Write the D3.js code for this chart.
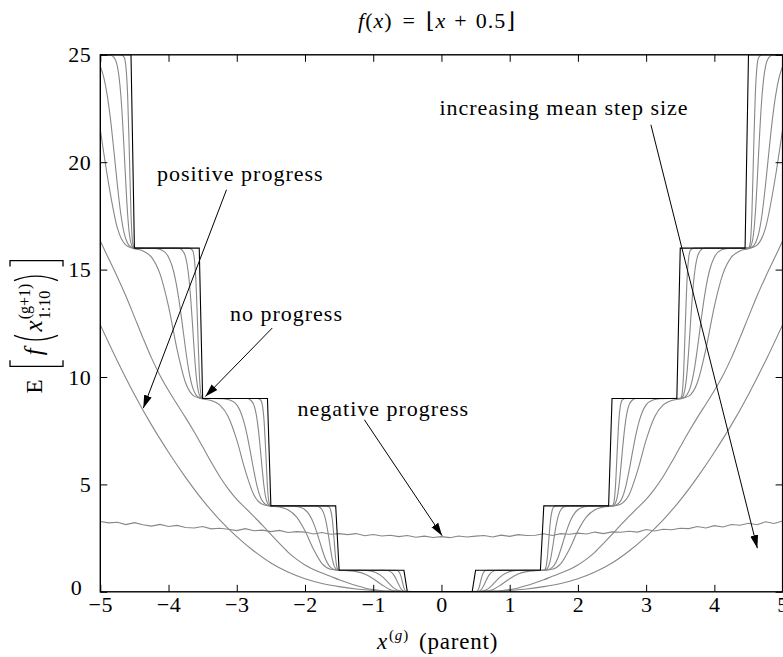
<!DOCTYPE html>
<html>
<head>
<meta charset="utf-8">
<script src="https://cdn.jsdelivr.net/npm/d3@7"></script>
<style>
    body { margin: 0; background: #fff; }
    text { font-family: "Liberation Serif", "DejaVu Serif", serif; fill: #000; }
</style>
</head>
<body>
<div id="chart"></div>
<script>
// parent fitness f = round(x)^2
const stepX = [-5, -4.55, -4.5, -3.55, -3.5, -2.55, -2.5, -1.55, -1.5, -0.55, -0.5, 0.45, 0.5, 1.45, 1.5, 2.45, 2.5, 3.45, 3.5, 4.45, 4.5, 5];
const stepY = [25, 25, 16, 16, 9, 9, 4, 4, 1, 1, 0, 0, 1, 1, 4, 4, 9, 9, 16, 16, 25, 25];

// smallest step sizes, read as [x, E] points
const small1 = [
    [-5, 25], [-4.7, 25], [-4.65, 24.88], [-4.625, 24.46], [-4.6, 23.15], [-4.575, 20.51], [-4.55, 17.6], [-4.525, 16.23], [-4.5, 16],
    [-3.7, 16], [-3.65, 15.91], [-3.625, 15.58], [-3.6, 14.56], [-3.575, 12.51], [-3.55, 10.24], [-3.525, 9.18], [-3.5, 9],
    [-2.7, 9], [-2.65, 8.93], [-2.625, 8.7], [-2.6, 7.97], [-2.575, 6.5], [-2.55, 4.89], [-2.525, 4.13], [-2.5, 4],
    [-1.7, 4], [-1.65, 3.96], [-1.625, 3.82], [-1.6, 3.38], [-1.575, 2.5], [-1.55, 1.53], [-1.525, 1.08], [-1.5, 1],
    [-0.7, 1], [-0.65, 0.99], [-0.625, 0.94], [-0.6, 0.79], [-0.575, 0.5], [-0.55, 0.18], [-0.525, 0.03], [-0.5, 0],
    [0, 0],
    [0.5, 0], [0.525, 0.03], [0.55, 0.18], [0.575, 0.5], [0.6, 0.79], [0.625, 0.94], [0.65, 0.99], [0.7, 1],
    [1.5, 1], [1.525, 1.08], [1.55, 1.53], [1.575, 2.5], [1.6, 3.38], [1.625, 3.82], [1.65, 3.96], [1.7, 4],
    [2.5, 4], [2.525, 4.13], [2.55, 4.89], [2.575, 6.5], [2.6, 7.97], [2.625, 8.7], [2.65, 8.93], [2.7, 9],
    [3.5, 9], [3.525, 9.18], [3.55, 10.24], [3.575, 12.51], [3.6, 14.56], [3.625, 15.58], [3.65, 15.91], [3.7, 16],
    [4.5, 16], [4.525, 16.23], [4.55, 17.6], [4.575, 20.51], [4.6, 23.15], [4.625, 24.46], [4.65, 24.88], [4.7, 25], [5, 25]
];

const small2 = [
    [-5, 25], [-4.85, 24.98], [-4.8, 24.88], [-4.75, 24.46], [-4.725, 23.96], [-4.7, 23.15], [-4.675, 21.98], [-4.65, 20.51], [-4.625, 18.95], [-4.6, 17.6], [-4.575, 16.69], [-4.55, 16.23], [-4.525, 16.05], [-4.5, 16],
    [-3.85, 16], [-3.8, 15.91], [-3.75, 15.58], [-3.725, 15.19], [-3.7, 14.56], [-3.675, 13.65], [-3.65, 12.51], [-3.625, 11.29], [-3.6, 10.24], [-3.575, 9.54], [-3.55, 9.18], [-3.525, 9.04], [-3.5, 9],
    [-2.85, 9], [-2.8, 8.93], [-2.75, 8.7], [-2.725, 8.42], [-2.7, 7.97], [-2.675, 7.32], [-2.65, 6.5], [-2.625, 5.64], [-2.6, 4.89], [-2.575, 4.38], [-2.55, 4.13], [-2.525, 4.03], [-2.5, 4],
    [-1.85, 4], [-1.8, 3.96], [-1.75, 3.82], [-1.725, 3.65], [-1.7, 3.38], [-1.675, 2.99], [-1.65, 2.5], [-1.625, 1.98], [-1.6, 1.53], [-1.575, 1.23], [-1.55, 1.08], [-1.525, 1.02], [-1.5, 1],
    [-0.85, 1], [-0.8, 0.99], [-0.75, 0.94], [-0.725, 0.88], [-0.7, 0.79], [-0.675, 0.66], [-0.65, 0.5], [-0.625, 0.33], [-0.6, 0.18], [-0.575, 0.08], [-0.55, 0.03], [-0.525, 0.01], [-0.5, 0],
    [0, 0],
    [0.5, 0], [0.525, 0.01], [0.55, 0.03], [0.575, 0.08], [0.6, 0.18], [0.625, 0.33], [0.65, 0.5], [0.675, 0.66], [0.7, 0.79], [0.725, 0.88], [0.75, 0.94], [0.8, 0.99], [0.85, 1],
    [1.5, 1], [1.525, 1.02], [1.55, 1.08], [1.575, 1.23], [1.6, 1.53], [1.625, 1.98], [1.65, 2.5], [1.675, 2.99], [1.7, 3.38], [1.725, 3.65], [1.75, 3.82], [1.8, 3.96], [1.85, 4],
    [2.5, 4], [2.525, 4.03], [2.55, 4.13], [2.575, 4.38], [2.6, 4.89], [2.625, 5.64], [2.65, 6.5], [2.675, 7.32], [2.7, 7.97], [2.725, 8.42], [2.75, 8.7], [2.8, 8.93], [2.85, 9],
    [3.5, 9], [3.525, 9.04], [3.55, 9.18], [3.575, 9.54], [3.6, 10.24], [3.625, 11.29], [3.65, 12.51], [3.675, 13.65], [3.7, 14.56], [3.725, 15.19], [3.75, 15.58], [3.8, 15.91], [3.85, 16],
    [4.5, 16], [4.525, 16.05], [4.55, 16.23], [4.575, 16.69], [4.6, 17.6], [4.625, 18.95], [4.65, 20.51], [4.675, 21.98], [4.7, 23.15], [4.725, 23.96], [4.75, 24.46], [4.8, 24.88], [4.85, 24.98], [5, 25]
];

const small3 = [
    [-5, 24.46], [-4.95, 23.96], [-4.9, 23.15], [-4.85, 21.98], [-4.8, 20.51], [-4.75, 18.95], [-4.7, 17.6], [-4.65, 16.69], [-4.6, 16.23], [-4.55, 16.05], [-4.5, 16.01],
    [-4.2, 15.98], [-4.1, 15.91], [-4.0, 15.58], [-3.95, 15.19], [-3.9, 14.56], [-3.85, 13.65], [-3.8, 12.51], [-3.75, 11.29], [-3.7, 10.24], [-3.65, 9.54], [-3.6, 9.18], [-3.55, 9.04], [-3.5, 9.01],
    [-3.2, 8.99], [-3.1, 8.93], [-3.0, 8.7], [-2.95, 8.42], [-2.9, 7.97], [-2.85, 7.32], [-2.8, 6.5], [-2.75, 5.64], [-2.7, 4.89], [-2.65, 4.38], [-2.6, 4.13], [-2.55, 4.03], [-2.5, 4],
    [-2.2, 3.99], [-2.1, 3.96], [-2.0, 3.82], [-1.95, 3.65], [-1.9, 3.38], [-1.85, 2.99], [-1.8, 2.5], [-1.75, 1.98], [-1.7, 1.53], [-1.65, 1.23], [-1.6, 1.08], [-1.55, 1.02], [-1.5, 1],
    [-1.2, 1], [-1.1, 0.99], [-1.0, 0.94], [-0.95, 0.88], [-0.9, 0.79], [-0.85, 0.66], [-0.8, 0.5], [-0.75, 0.33], [-0.7, 0.18], [-0.65, 0.08], [-0.6, 0.03], [-0.55, 0.01], [-0.5, 0],
    [0, 0],
    [0.5, 0], [0.55, 0.01], [0.6, 0.03], [0.65, 0.08], [0.7, 0.18], [0.75, 0.33], [0.8, 0.5], [0.85, 0.66], [0.9, 0.79], [0.95, 0.88], [1.0, 0.94], [1.1, 0.99], [1.2, 1],
    [1.5, 1], [1.55, 1.02], [1.6, 1.08], [1.65, 1.23], [1.7, 1.53], [1.75, 1.98], [1.8, 2.5], [1.85, 2.99], [1.9, 3.38], [1.95, 3.65], [2.0, 3.82], [2.1, 3.96], [2.2, 3.99],
    [2.5, 4], [2.55, 4.03], [2.6, 4.13], [2.65, 4.38], [2.7, 4.89], [2.75, 5.64], [2.8, 6.5], [2.85, 7.32], [2.9, 7.97], [2.95, 8.42], [3.0, 8.7], [3.1, 8.93], [3.2, 8.99],
    [3.5, 9.01], [3.55, 9.04], [3.6, 9.18], [3.65, 9.54], [3.7, 10.24], [3.75, 11.29], [3.8, 12.51], [3.85, 13.65], [3.9, 14.56], [3.95, 15.19], [4.0, 15.58], [4.1, 15.91], [4.2, 15.98],
    [4.5, 16.01], [4.55, 16.05], [4.6, 16.23], [4.65, 16.69], [4.7, 17.6], [4.75, 18.95], [4.8, 20.51], [4.85, 21.98], [4.9, 23.15], [4.95, 23.96], [5, 24.46]
];

// larger step sizes, on an x grid of 0.125
const fineX = d3.range(-5, 5.0001, 0.125);
const medium1 = [
    21.52, 18.94, 16.94, 16.14, 15.97, 15.87, 15.58, 14.80, 13.29, 11.29, 9.73, 9.11, 8.98, 8.91, 8.70, 8.15, 7.07, 5.64, 4.52, 4.08,
    3.99, 3.95, 3.82, 3.49, 2.84, 1.98, 1.31, 1.05, 1.00, 0.98, 0.94, 0.83, 0.61, 0.33, 0.10, 0.02, 0, 0, 0, 0,
    0,
    0, 0, 0, 0, 0.02, 0.10, 0.33, 0.61, 0.83, 0.94, 0.98, 1.00, 1.05, 1.31, 1.98, 2.84, 3.49, 3.82, 3.95, 3.99,
    4.08, 4.52, 5.64, 7.07, 8.15, 8.70, 8.91, 8.98, 9.11, 9.73, 11.29, 13.29, 14.80, 15.58, 15.87, 15.97, 16.14, 16.94, 18.94, 21.52
];
const medium2 = [
    16.33, 15.49, 14.66, 13.77, 12.80, 11.82, 10.89, 10.07, 9.37, 8.73, 8.11, 7.45, 6.75, 6.04, 5.37, 4.79, 4.30, 3.91, 3.51, 3.10,
    2.67, 2.25, 1.85, 1.52, 1.25, 1.04, 0.87, 0.72, 0.56, 0.42, 0.29, 0.18, 0.10, 0.05, 0.02, 0.01, 0, 0, 0, 0,
    0,
    0, 0, 0, 0, 0.01, 0.02, 0.05, 0.10, 0.18, 0.29, 0.42, 0.56, 0.72, 0.87, 1.04, 1.25, 1.52, 1.85, 2.25, 2.67,
    3.10, 3.51, 3.91, 4.30, 4.79, 5.37, 6.04, 6.75, 7.45, 8.11, 8.73, 9.37, 10.07, 10.89, 11.82, 12.80, 13.77, 14.66, 15.49, 16.33
];
// very large step size, noisy estimate
const wide2 = [
    3.27, 3.21, 3.24, 3.13, 3.22, 3.12, 3.06, 3.14, 3.04, 3.09, 2.99, 2.97, 3.04, 2.93, 2.96, 2.91, 2.85, 2.94, 2.84, 2.87,
    2.80, 2.86, 2.76, 2.80, 2.78, 2.69, 2.76, 2.68, 2.71, 2.66, 2.71, 2.61, 2.67, 2.60, 2.63, 2.57, 2.62, 2.54, 2.59, 2.53,
    2.57,
    2.52, 2.60, 2.55, 2.59, 2.62, 2.55, 2.64, 2.58, 2.66, 2.62, 2.63, 2.70, 2.62, 2.71, 2.68, 2.73, 2.69, 2.78, 2.71, 2.79,
    2.77, 2.82, 2.78, 2.90, 2.83, 2.91, 2.89, 2.96, 2.94, 3.04, 2.97, 3.08, 3.02, 3.13, 3.10, 3.19, 3.12, 3.26, 3.18, 3.30
];

// x grid of 0.25
const coarseX = d3.range(-5, 5.0001, 0.25);
const wide1 = [
    12.43, 10.75, 9.19, 7.77, 6.50, 5.33, 4.27, 3.35, 2.57, 1.90, 1.34, 0.92, 0.61, 0.39, 0.24, 0.13, 0.06, 0.03, 0.02, 0.01,
    0.01,
    0.01, 0.02, 0.03, 0.06, 0.13, 0.24, 0.39, 0.61, 0.92, 1.34, 1.90, 2.57, 3.35, 4.27, 5.33, 6.50, 7.77, 9.19, 10.75, 12.43
];

const xTicks = [-5, -4, -3, -2, -1, 0, 1, 2, 3, 4, 5];
const yTicks = [0, 5, 10, 15, 20, 25];

// annotation text and arrows, in data units
const notes = [
    { text: "increasing mean step size", tx: -0.03, ty: 22.2, x1: 3.07, y1: 21.74, x2: 4.63, y2: 2.03 },
    { text: "positive progress", tx: -4.17, ty: 19.13, x1: -3.15, y1: 18.72, x2: -4.37, y2: 8.55 },
    { text: "no progress", tx: -3.10, ty: 12.62, x1: -2.48, y1: 12.28, x2: -3.46, y2: 9.09 },
    { text: "negative progress", tx: -2.11, ty: 8.19, x1: -1.13, y1: 8.01, x2: 0.01, y2: 2.61 }
];

const width = 783;
const height = 657;
const gray = "#878787";

const svg = d3.select("#chart")
    .append("svg")
    .attr("width", width)
    .attr("height", height);

const x = d3.scaleLinear().domain([-5, 5]).range([100.3, 782.6]);
const y = d3.scaleLinear().domain([0, 25]).range([591.8, 54.8]);

svg.append("defs").append("clipPath").attr("id", "plot")
    .append("rect")
    .attr("x", x(-5)).attr("y", y(25))
    .attr("width", x(5) - x(-5)).attr("height", y(0) - y(25));

svg.select("defs").append("marker")
    .attr("id", "head")
    .attr("markerUnits", "userSpaceOnUse")
    .attr("viewBox", "0 -5 13 10")
    .attr("refX", 13).attr("refY", 0)
    .attr("markerWidth", 13).attr("markerHeight", 10)
    .attr("orient", "auto")
    .append("path")
    .attr("d", "M0,-4L13,0L0,4Z")
    .attr("fill", "#000");

// curves
const pairLine = d3.line()
    .x(d => x(d[0]))
    .y(d => y(d[1]))
    .curve(d3.curveMonotoneX);

const curves = svg.append("g").attr("clip-path", "url(#plot)");

[wide1.map((v, i) => [coarseX[i], v]),
 medium2.map((v, i) => [fineX[i], v]),
 medium1.map((v, i) => [fineX[i], v]),
 small3, small2, small1].forEach(pts => {
    curves.append("path")
        .attr("d", pairLine(pts))
        .attr("fill", "none")
        .attr("stroke", gray)
        .attr("stroke-width", 1.1);
});

curves.append("path")
    .attr("d", d3.line().x(d => x(d[0])).y(d => y(d[1]))(wide2.map((v, i) => [fineX[i], v])))
    .attr("fill", "none")
    .attr("stroke", gray)
    .attr("stroke-width", 1.1);

curves.append("path")
    .attr("d", d3.line().x(d => x(d[0])).y(d => y(d[1]))(stepX.map((v, i) => [v, stepY[i]])))
    .attr("fill", "none")
    .attr("stroke", "#000")
    .attr("stroke-width", 1.1);

// axes with inward ticks on all four sides
svg.append("g")
    .attr("transform", `translate(0,${y(0)})`)
    .call(d3.axisBottom(x).tickValues(xTicks).tickSize(-7).tickPadding(5));
svg.append("g")
    .attr("transform", `translate(0,${y(25)})`)
    .call(d3.axisTop(x).tickValues(xTicks).tickSize(-7).tickFormat(""));
const left = svg.append("g")
    .attr("transform", `translate(${x(-5)},0)`)
    .call(d3.axisLeft(y).tickValues(yTicks).tickSize(-7).tickPadding(9));
svg.append("g")
    .attr("transform", `translate(${x(5)},0)`)
    .call(d3.axisRight(y).tickValues(yTicks).tickSize(-7).tickFormat(""));

svg.selectAll(".domain").remove();
svg.selectAll(".tick line").attr("stroke", "#000").attr("stroke-width", 1);
svg.selectAll(".tick text")
    .attr("font-family", "Liberation Serif")
    .attr("font-size", 22)
    .attr("letter-spacing", 0.5)
    .attr("fill", "#000");

// the 0 on the y axis sits a little up and left of the -5
left.selectAll(".tick text").filter(d => d == 0)
    .attr("x", -18)
    .attr("dy", "0.1em");

svg.append("rect")
    .attr("x", x(-5)).attr("y", y(25))
    .attr("width", x(5) - x(-5)).attr("height", y(0) - y(25))
    .attr("fill", "none")
    .attr("stroke", "#000")
    .attr("stroke-width", 1.4);

// annotations
notes.forEach(n => {
    svg.append("text")
        .attr("x", x(n.tx))
        .attr("y", y(n.ty))
        .attr("font-size", 22)
        .attr("letter-spacing", 1)
        .text(n.text);
    svg.append("line")
        .attr("x1", x(n.x1)).attr("y1", y(n.y1))
        .attr("x2", x(n.x2)).attr("y2", y(n.y2))
        .attr("stroke", "#000")
        .attr("stroke-width", 1)
        .attr("marker-end", "url(#head)");
});

// title
const title = svg.append("text")
    .attr("x", 358)
    .attr("y", 28)
    .attr("font-size", 22)
    .attr("letter-spacing", 1);
title.append("tspan").attr("font-style", "italic").text("f");
title.append("tspan").text("(");
title.append("tspan").attr("font-style", "italic").text("x");
title.append("tspan").text(")");
title.append("tspan").attr("dx", 10).text("=");
title.append("tspan").attr("dx", 10).text("\u230A");
title.append("tspan").attr("font-style", "italic").text("x");
title.append("tspan").attr("dx", 8).text("+");
title.append("tspan").attr("dx", 8).text("0.5\u230B");

// x label
const xlab = svg.append("text")
    .attr("x", 377)
    .attr("y", 649)
    .attr("font-size", 23)
    .attr("letter-spacing", 0.8);
xlab.append("tspan").attr("font-style", "italic").text("x");
xlab.append("tspan").attr("font-size", 15).attr("dy", -9).attr("dx", 1).text("(");
xlab.append("tspan").attr("font-size", 15).attr("font-style", "italic").text("g");
xlab.append("tspan").attr("font-size", 15).text(")");
xlab.append("tspan").attr("dy", 9).attr("dx", 10).text("(parent)");

// y label, laid out piece by piece in a rotated group
const ylab = svg.append("g");
let u = 0;
const put = (txt, size, italic, v) => {
    const t = ylab.append("text")
        .attr("x", u)
        .attr("y", v)
        .attr("font-size", size)
        .attr("font-style", italic ? "italic" : "normal")
        .text(txt);
    return t.node().getComputedTextLength();
};
const bracket = (open) => {
    const a = open ? u : u + 6;
    const b = open ? u + 6 : u;
    ylab.append("path")
        .attr("d", `M${b},-32H${a}V21H${b}`)
        .attr("fill", "none")
        .attr("stroke", "#000")
        .attr("stroke-width", 1.3);
};
const paren = (open) => {
    const a = open ? u + 8 : u;
    const c = open ? u - 1 : u + 9;
    ylab.append("path")
        .attr("d", `M${a},-28Q${c},-6 ${a},16`)
        .attr("fill", "none")
        .attr("stroke", "#000")
        .attr("stroke-width", 1.4);
};
u += put("E", 23, false, 0) + 13;
bracket(true);
u += 11;
u += put("f", 25, true, 0) + 5;
paren(true);
u += 12;
u += put("x", 25, true, 0) + 1;
const wSup = put("(g+1)", 16, false, -12);
const wSub = put("1:10", 16, false, 8);
u += Math.max(wSup, wSub) + 3;
paren(false);
u += 14;
bracket(false);
u += 6;
ylab.attr("transform", `translate(42,${327 + u / 2}) rotate(-90)`);
</script>
</body>
</html>
